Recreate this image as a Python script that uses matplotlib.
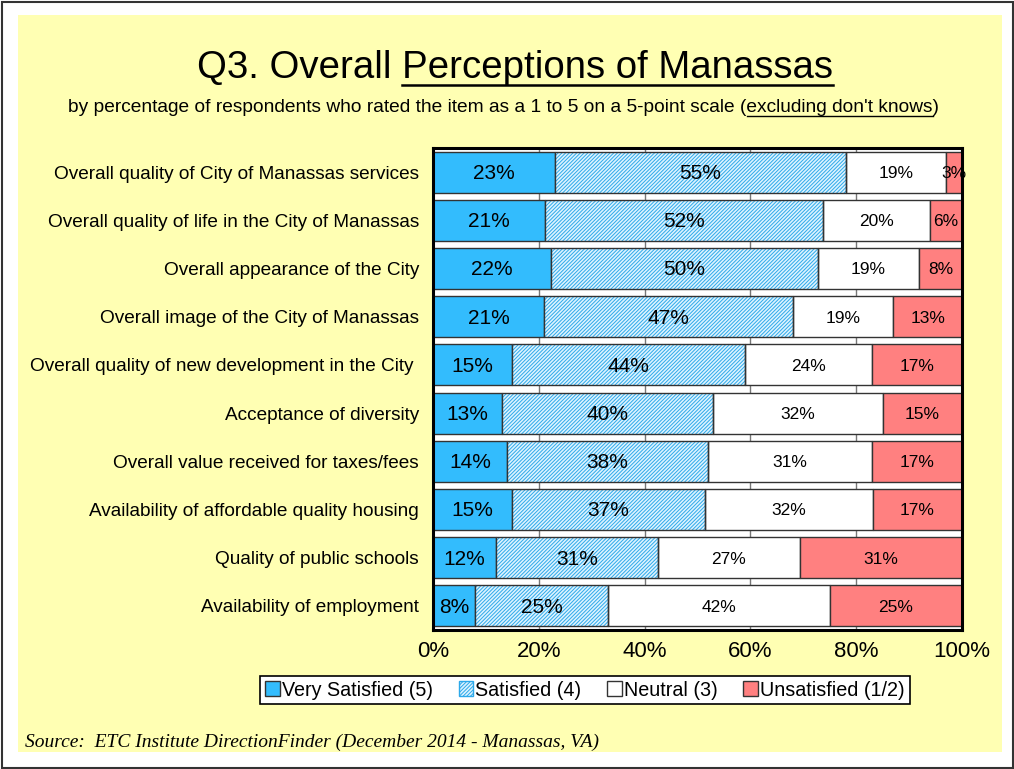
import matplotlib.pyplot as plt
from matplotlib.patches import Patch, Rectangle
from matplotlib.lines import Line2D
import numpy as np

plt.rcParams['font.family'] = ['Liberation Sans', 'DejaVu Sans']
plt.rcParams['hatch.linewidth'] = 0.7

categories = [
    "Overall quality of City of Manassas services",
    "Overall quality of life in the City of Manassas",
    "Overall appearance of the City",
    "Overall image of the City of Manassas",
    "Overall quality of new development in the City ",
    "Acceptance of diversity",
    "Overall value received for taxes/fees",
    "Availability of affordable quality housing",
    "Quality of public schools",
    "Availability of employment",
]
very_satisfied = [23, 21, 22, 21, 15, 13, 14, 15, 12, 8]
satisfied = [55, 52, 50, 47, 44, 40, 38, 37, 31, 25]
neutral = [19, 20, 19, 19, 24, 32, 31, 32, 27, 42]
unsatisfied = [3, 6, 8, 13, 17, 15, 17, 17, 31, 25]
series_names = ["Very Satisfied (5)", "Satisfied (4)", "Neutral (3)", "Unsatisfied (1/2)"]
xticks = [0, 20, 40, 60, 80, 100]

blue = '#33BCFD'
hatch_face = '#DDF3FF'
hatch_line = '#2DA9EA'
red = '#FF8080'
yellow = '#FFFFB3'
edge = '#333333'

W, H = 1014, 769
fig = plt.figure(figsize=(W / 100, H / 100), dpi=100, facecolor='white')

# yellow panel and outer frame
fig.patches.append(Rectangle((18 / W, 1 - 752 / H), 984 / W, 737 / H, transform=fig.transFigure,
                             facecolor=yellow, edgecolor='none', zorder=-10))
fig.patches.append(Rectangle((1.5 / W, 1.5 / H), (W - 3) / W, (H - 3) / H, transform=fig.transFigure,
                             facecolor='none', edgecolor='#333333', lw=1.5, zorder=-9))

ax = fig.add_axes([433 / W, 1 - 630 / H, 529 / W, 482 / H])
ax.set_facecolor('white')

data = np.array([very_satisfied, satisfied, neutral, unsatisfied], dtype=float)
shares = data / data.sum(axis=0) * 100
y = np.arange(len(categories))
h = 0.85

left = np.zeros(len(categories))
ax.barh(y, shares[0], left=left, height=h, color=blue, edgecolor=edge, lw=1, zorder=3)
left += shares[0]
ax.barh(y, shares[1], left=left, height=h, color=hatch_face, edgecolor=hatch_line,
        hatch='/////////', lw=0, zorder=3)
ax.barh(y, shares[1], left=left, height=h, color='none', edgecolor=edge, lw=1, zorder=4)
left += shares[1]
ax.barh(y, shares[2], left=left, height=h, color='white', edgecolor=edge, lw=1, zorder=3)
left += shares[2]
ax.barh(y, shares[3], left=left, height=h, color=red, edgecolor=edge, lw=1, zorder=3)

# segment labels
start = np.zeros(len(categories))
for k in range(4):
    size = 15 if k < 2 else 12.5
    for i in range(len(categories)):
        ax.text(start[i] + shares[k][i] / 2, y[i] + 0.03, f"{int(data[k][i])}%", ha='center', va='center',
                fontsize=size, zorder=6)
    start += shares[k]

ax.set_xlim(0, 100)
ax.set_ylim(len(categories) - 0.5, -0.5)
ax.set_yticks(y)
ax.set_yticklabels(categories, fontsize=13.7)
ax.set_xticks(xticks)
ax.set_xticklabels([f"{t}%" for t in xticks], fontsize=16)
ax.tick_params(axis='both', length=0)
ax.tick_params(axis='y', pad=10)
ax.tick_params(axis='x', pad=8)
ax.xaxis.grid(True, color='#777777', lw=1, zorder=0)
ax.set_axisbelow(True)
for s in ax.spines.values():
    s.set_linewidth(2.2)
    s.set_color('black')
    s.set_zorder(7)

handles = [
    Patch(facecolor=blue, edgecolor=edge, lw=1),
    Patch(facecolor=hatch_face, edgecolor=hatch_line, hatch='/////////', lw=1),
    Patch(facecolor='white', edgecolor=edge, lw=1),
    Patch(facecolor=red, edgecolor=edge, lw=1),
]
leg = fig.legend(handles, series_names, loc='center', bbox_to_anchor=(585 / W, 1 - 690 / H), ncol=4,
                 fontsize=14.2, frameon=True, fancybox=False, edgecolor='black', framealpha=1,
                 handlelength=0.75, handleheight=0.75, handletextpad=0.1, columnspacing=1.3,
                 borderpad=0.25)
leg.get_frame().set_linewidth(1.2)

# title and subtitle with underlined parts
title_y = 1 - 68 / H
sub_y = 1 - 108 / H
t_full = fig.text(515 / W, title_y, "Q3. Overall Perceptions of Manassas", ha='center', va='center', fontsize=27.6)
s_full = fig.text(504 / W, sub_y, "by percentage of respondents who rated the item as a 1 to 5 on a 5-point scale (excluding don't knows)",
                  ha='center', va='center', fontsize=13.8)
fig.text(25 / W, 1 - 742 / H, "Source:  ETC Institute DirectionFinder (December 2014 - Manassas, VA)",
         ha='left', va='center', fontsize=14, style='italic', family='Liberation Serif')

fig.canvas.draw()
r = fig.canvas.get_renderer()


def text_width(s, size):
    t = fig.text(0, 0, s, fontsize=size)
    w = t.get_window_extent(r).width
    t.remove()
    return w


bb = t_full.get_window_extent(r)
x1 = bb.x1
x0 = x1 - text_width("Perceptions of Manassas", 27.6)
uy = bb.y0 + 1
fig.add_artist(Line2D([x0 / W, x1 / W], [uy / H, uy / H], transform=fig.transFigure, color='black', lw=1.8))

bb = s_full.get_window_extent(r)
x1 = bb.x1 - text_width(")", 13.8)
x0 = bb.x1 - text_width("excluding don't knows)", 13.8)
uy = bb.y0 + 1
fig.add_artist(Line2D([x0 / W, x1 / W], [uy / H, uy / H], transform=fig.transFigure, color='black', lw=1))

fig.savefig("out.png", dpi=100, facecolor='white')
